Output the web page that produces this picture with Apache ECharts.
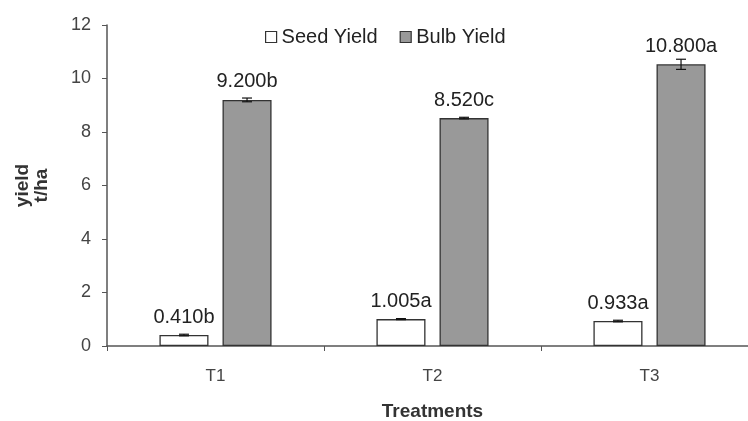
<!DOCTYPE html>
<html><head><meta charset="utf-8">
<script src="https://cdn.jsdelivr.net/npm/echarts@6/dist/echarts.min.js"></script>
<style>html,body{margin:0;padding:0;background:#fff}#c{width:748px;height:421px}</style>
</head><body><div id="c"></div>
<script>
const categories = ['T1', 'T2', 'T3'];
const seedYield = [0.41, 1.005, 0.933];
const bulbYield = [9.2, 8.52, 10.53];
const seedErr = [0.03, 0.02, 0.03];
const bulbErr = [0.07, 0.03, 0.19];
const seedLabels = ['0.410b', '1.005a', '0.933a'];
const bulbLabels = ['9.200b', '8.520c', '10.800a'];
const yTicks = [0, 2, 4, 6, 8, 10, 12];

const chart = echarts.init(document.getElementById('c'));
const font = 'Liberation Sans, Arial, sans-serif';

function errSeries(vals, errs, side) {
  return {
    type: 'custom',
    silent: true,
    z: 5,
    data: vals.map((v, i) => [i, v, errs[i]]),
    renderItem: function (params, api) {
      const i = api.value(0), v = api.value(1), e = api.value(2);
      const bw = api.size([1, 0])[0] * 0.226;
      const gap = bw * 0.286;
      const dx = side * (bw + gap) / 2;
      const hi = api.coord([i, v + e]);
      const lo = api.coord([i, v - e]);
      const x = hi[0] + dx;
      const cap = 5;
      const st = { stroke: '#111', lineWidth: 1.2 };
      return { type: 'group', children: [
        { type: 'line', shape: { x1: x, y1: hi[1], x2: x, y2: lo[1] }, style: st },
        { type: 'line', shape: { x1: x - cap, y1: hi[1], x2: x + cap, y2: hi[1] }, style: st },
        { type: 'line', shape: { x1: x - cap, y1: lo[1], x2: x + cap, y2: lo[1] }, style: st }
      ]};
    }
  };
}

chart.setOption({
  animation: false,
  backgroundColor: '#fff',
  textStyle: { fontFamily: font },
  grid: { left: 107, top: 25, bottom: 75, width: 651, outerBoundsMode: 'none', containLabel: false },
  legend: {
    top: 22, left: 260,
    itemWidth: 11, itemHeight: 11, itemGap: 22,
    textStyle: { fontSize: 20, color: '#222', fontFamily: font },
    data: [
      { name: 'Seed Yield', icon: 'rect', itemStyle: { color: '#fff', borderColor: '#333', borderWidth: 1.2 } },
      { name: 'Bulb Yield', icon: 'rect', itemStyle: { color: '#999', borderColor: '#333', borderWidth: 1.2 } }
    ]
  },
  xAxis: {
    type: 'category', data: categories,
    name: 'Treatments', nameLocation: 'middle', nameGap: 56,
    nameTextStyle: { fontSize: 19, fontWeight: 'bold', color: '#333', fontFamily: font },
    axisLine: { lineStyle: { color: '#555', width: 1.5 } },
    axisTick: { show: true, length: 5, lineStyle: { color: '#555' } },
    axisLabel: { fontSize: 17, color: '#444', margin: 22, fontFamily: font }
  },
  yAxis: {
    type: 'value', min: 0, max: 12, interval: 2,
    name: 'yield\nt/ha', nameLocation: 'middle', nameGap: 56, nameRotate: 90,
    nameTextStyle: { fontSize: 19, fontWeight: 'bold', color: '#333', lineHeight: 19, fontFamily: font },
    axisLine: { show: true, lineStyle: { color: '#555', width: 1.5 } },
    axisTick: { show: true, length: 5, lineStyle: { color: '#555' } },
    splitLine: { show: false },
    axisLabel: { fontSize: 18, color: '#444', margin: 16, fontFamily: font,
      formatter: v => yTicks.includes(v) ? String(v) : '' }
  },
  series: [
    {
      name: 'Seed Yield', type: 'bar', data: seedYield,
      barWidth: '22.6%', barGap: '28.6%',
      itemStyle: { color: '#fff', borderColor: '#333', borderWidth: 1.3 },
      label: { show: true, position: 'top', distance: 8, fontSize: 20, color: '#222', fontFamily: font,
        formatter: p => seedLabels[p.dataIndex] }
    },
    {
      name: 'Bulb Yield', type: 'bar', data: bulbYield,
      barWidth: '22.6%', barGap: '28.6%',
      itemStyle: { color: '#999', borderColor: '#333', borderWidth: 1.3 },
      label: { show: true, position: 'top', distance: 8, fontSize: 20, color: '#222', fontFamily: font,
        formatter: p => bulbLabels[p.dataIndex] }
    },
    errSeries(seedYield, seedErr, -1),
    errSeries(bulbYield, bulbErr, 1)
  ]
});
</script>
</body></html>
